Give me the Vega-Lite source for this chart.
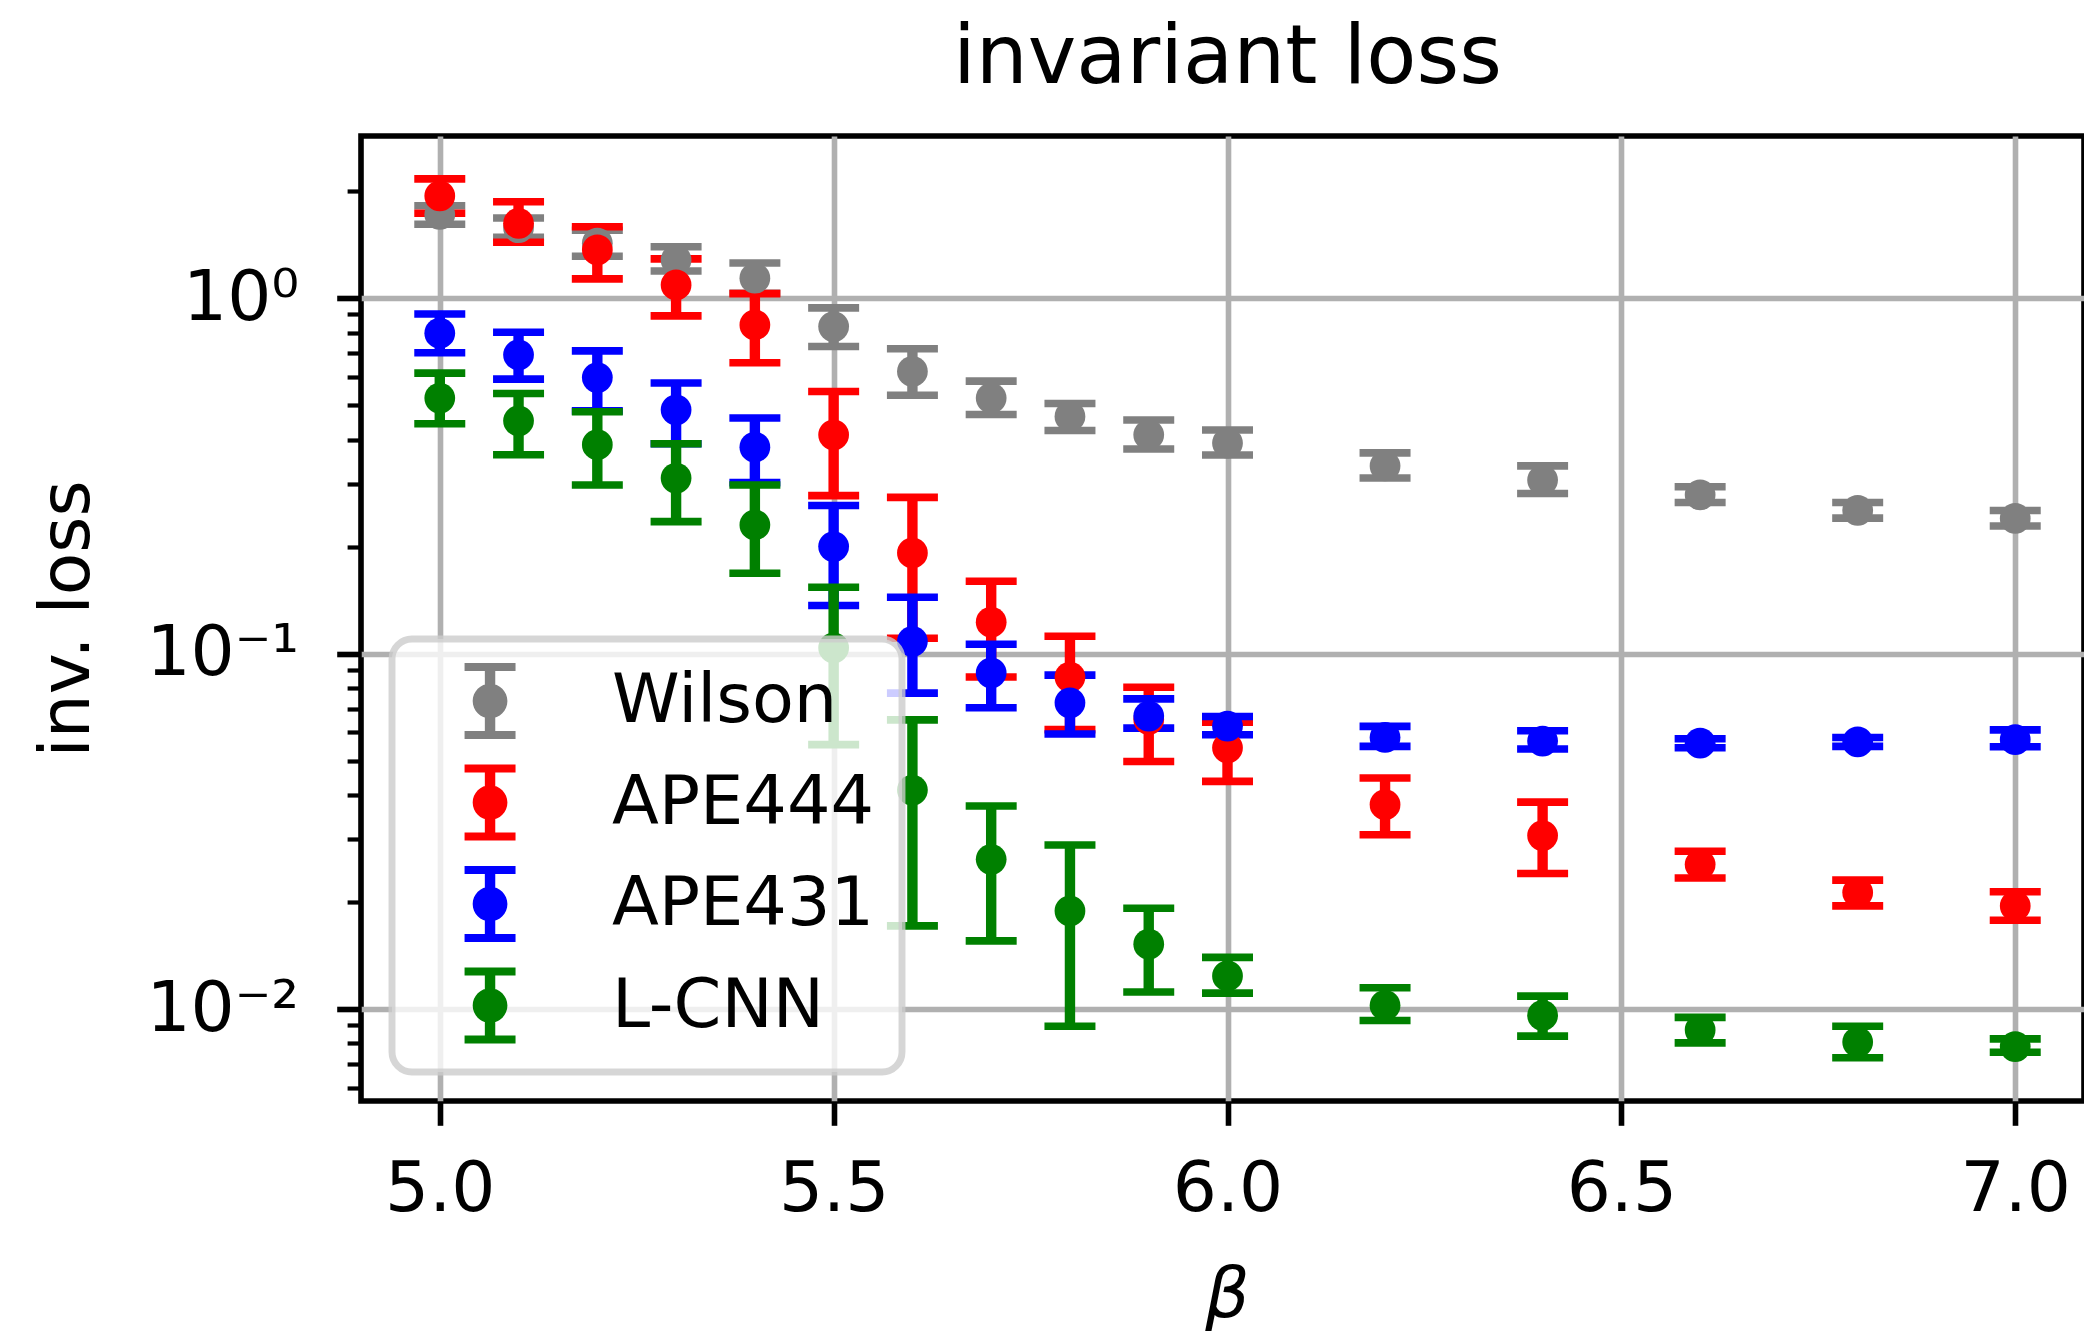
{
  "$schema": "https://vega.github.io/schema/vega-lite/v6.json",
  "autosize": {"type": "none"},
  "padding": {"left": 361, "top": 136, "right": 0, "bottom": 231},
  "width": 1723,
  "height": 965,
  "background": "white",
  "config": {"view": {"stroke": "black", "strokeWidth": 5.6}, "font": "DejaVu Sans"},
  "title": {"text": "invariant loss", "font": "DejaVu Sans", "fontSize": 82, "fontWeight": "normal", "color": "black", "anchor": "middle", "frame": "group", "baseline": "alphabetic", "offset": 52, "dx": 5, "dy": 81},
  "data": {"values": [
    {"s": "Wilson", "b": 5.0, "v": 1.720, "lo": 1.614, "hi": 1.821},
    {"s": "Wilson", "b": 5.1, "v": 1.579, "lo": 1.484, "hi": 1.682},
    {"s": "Wilson", "b": 5.2, "v": 1.428, "lo": 1.312, "hi": 1.553},
    {"s": "Wilson", "b": 5.3, "v": 1.281, "lo": 1.193, "hi": 1.396},
    {"s": "Wilson", "b": 5.4, "v": 1.138, "lo": 1.033, "hi": 1.256},
    {"s": "Wilson", "b": 5.5, "v": 0.832, "lo": 0.731, "hi": 0.939},
    {"s": "Wilson", "b": 5.6, "v": 0.622, "lo": 0.533, "hi": 0.721},
    {"s": "Wilson", "b": 5.7, "v": 0.5235, "lo": 0.4708, "hi": 0.5843},
    {"s": "Wilson", "b": 5.8, "v": 0.4648, "lo": 0.4245, "hi": 0.5056},
    {"s": "Wilson", "b": 5.9, "v": 0.4128, "lo": 0.3763, "hi": 0.4541},
    {"s": "Wilson", "b": 6.0, "v": 0.3913, "lo": 0.362, "hi": 0.4256},
    {"s": "Wilson", "b": 6.2, "v": 0.3374, "lo": 0.3121, "hi": 0.367},
    {"s": "Wilson", "b": 6.4, "v": 0.3078, "lo": 0.2822, "hi": 0.3374},
    {"s": "Wilson", "b": 6.6, "v": 0.2797, "lo": 0.2662, "hi": 0.2947},
    {"s": "Wilson", "b": 6.8, "v": 0.2528, "lo": 0.2406, "hi": 0.2662},
    {"s": "Wilson", "b": 7.0, "v": 0.240, "lo": 0.2285, "hi": 0.2528},
    {"s": "APE444", "b": 5.0, "v": 1.939, "lo": 1.734, "hi": 2.167},
    {"s": "APE444", "b": 5.1, "v": 1.625, "lo": 1.437, "hi": 1.868},
    {"s": "APE444", "b": 5.2, "v": 1.367, "lo": 1.133, "hi": 1.589},
    {"s": "APE444", "b": 5.3, "v": 1.090, "lo": 0.892, "hi": 1.290},
    {"s": "APE444", "b": 5.4, "v": 0.841, "lo": 0.658, "hi": 1.030},
    {"s": "APE444", "b": 5.5, "v": 0.4128, "lo": 0.2782, "hi": 0.5464},
    {"s": "APE444", "b": 5.6, "v": 0.192, "lo": 0.1105, "hi": 0.2752},
    {"s": "APE444", "b": 5.7, "v": 0.1226, "lo": 0.0859, "hi": 0.1598},
    {"s": "APE444", "b": 5.8, "v": 0.0859, "lo": 0.0611, "hi": 0.1119},
    {"s": "APE444", "b": 5.9, "v": 0.0653, "lo": 0.0497, "hi": 0.0804},
    {"s": "APE444", "b": 6.0, "v": 0.0543, "lo": 0.0437, "hi": 0.0641},
    {"s": "APE444", "b": 6.2, "v": 0.03756, "lo": 0.03093, "hi": 0.04465},
    {"s": "APE444", "b": 6.4, "v": 0.03075, "lo": 0.02406, "hi": 0.0382},
    {"s": "APE444", "b": 6.6, "v": 0.02549, "lo": 0.02337, "hi": 0.0278},
    {"s": "APE444", "b": 6.8, "v": 0.02126, "lo": 0.0195, "hi": 0.02305},
    {"s": "APE444", "b": 7.0, "v": 0.0195, "lo": 0.01778, "hi": 0.02138},
    {"s": "APE431", "b": 5.0, "v": 0.797, "lo": 0.702, "hi": 0.903},
    {"s": "APE431", "b": 5.1, "v": 0.693, "lo": 0.592, "hi": 0.802},
    {"s": "APE431", "b": 5.2, "v": 0.598, "lo": 0.482, "hi": 0.711},
    {"s": "APE431", "b": 5.3, "v": 0.4854, "lo": 0.3895, "hi": 0.577},
    {"s": "APE431", "b": 5.4, "v": 0.3808, "lo": 0.3027, "hi": 0.4603},
    {"s": "APE431", "b": 5.5, "v": 0.200, "lo": 0.1365, "hi": 0.2611},
    {"s": "APE431", "b": 5.6, "v": 0.1083, "lo": 0.0774, "hi": 0.144},
    {"s": "APE431", "b": 5.7, "v": 0.0883, "lo": 0.0704, "hi": 0.1062},
    {"s": "APE431", "b": 5.8, "v": 0.0727, "lo": 0.0594, "hi": 0.0870},
    {"s": "APE431", "b": 5.9, "v": 0.0667, "lo": 0.0617, "hi": 0.0746},
    {"s": "APE431", "b": 6.0, "v": 0.0625, "lo": 0.0591, "hi": 0.0665},
    {"s": "APE431", "b": 6.2, "v": 0.05809, "lo": 0.05481, "hi": 0.06242},
    {"s": "APE431", "b": 6.4, "v": 0.05676, "lo": 0.05389, "hi": 0.06067},
    {"s": "APE431", "b": 6.6, "v": 0.05596, "lo": 0.05434, "hi": 0.05758},
    {"s": "APE431", "b": 6.8, "v": 0.05643, "lo": 0.05481, "hi": 0.05806},
    {"s": "APE431", "b": 7.0, "v": 0.05724, "lo": 0.05468, "hi": 0.06102},
    {"s": "L-CNN", "b": 5.0, "v": 0.5235, "lo": 0.4432, "hi": 0.6154},
    {"s": "L-CNN", "b": 5.1, "v": 0.4519, "lo": 0.3627, "hi": 0.5394},
    {"s": "L-CNN", "b": 5.2, "v": 0.387, "lo": 0.2982, "hi": 0.479},
    {"s": "L-CNN", "b": 5.3, "v": 0.3119, "lo": 0.2351, "hi": 0.3895},
    {"s": "L-CNN", "b": 5.4, "v": 0.2301, "lo": 0.1683, "hi": 0.2982},
    {"s": "L-CNN", "b": 5.5, "v": 0.1038, "lo": 0.05546, "hi": 0.1537},
    {"s": "L-CNN", "b": 5.6, "v": 0.0413, "lo": 0.01714, "hi": 0.0651},
    {"s": "L-CNN", "b": 5.7, "v": 0.02638, "lo": 0.01555, "hi": 0.03724},
    {"s": "L-CNN", "b": 5.8, "v": 0.01888, "lo": 0.00894, "hi": 0.02893},
    {"s": "L-CNN", "b": 5.9, "v": 0.01522, "lo": 0.01117, "hi": 0.01921},
    {"s": "L-CNN", "b": 6.0, "v": 0.01239, "lo": 0.01108, "hi": 0.01397},
    {"s": "L-CNN", "b": 6.2, "v": 0.01023, "lo": 0.00928, "hi": 0.01148},
    {"s": "L-CNN", "b": 6.4, "v": 0.0096, "lo": 0.00839, "hi": 0.01087},
    {"s": "L-CNN", "b": 6.6, "v": 0.00873, "lo": 0.00803, "hi": 0.00947},
    {"s": "L-CNN", "b": 6.8, "v": 0.00807, "lo": 0.00729, "hi": 0.00894},
    {"s": "L-CNN", "b": 7.0, "v": 0.00784, "lo": 0.00756, "hi": 0.00824}
  ]},
  "layer": [
    {
      "transform": [{"filter": "datum.s === 'Wilson'"}],
      "layer": [
        {"mark": {"type": "rule", "color": "#808080", "strokeWidth": 10.4},
         "encoding": {"x": {"field": "b", "type": "quantitative", "scale": {"domain": [4.9, 7.0873], "nice": false, "zero": false}},
                      "y": {"field": "lo", "type": "quantitative", "scale": {"type": "log", "domain": [0.00551, 2.86], "nice": false}},
                      "y2": {"field": "hi"}}},
        {"mark": {"type": "tick", "orient": "horizontal", "color": "#808080", "size": 51, "thickness": 7.6, "opacity": 1},
         "encoding": {"x": {"field": "b", "type": "quantitative", "scale": {"domain": [4.9, 7.0873], "nice": false, "zero": false}},
                      "y": {"field": "lo", "type": "quantitative", "scale": {"type": "log", "domain": [0.00551, 2.86], "nice": false}}}},
        {"mark": {"type": "tick", "orient": "horizontal", "color": "#808080", "size": 51, "thickness": 7.6, "opacity": 1},
         "encoding": {"x": {"field": "b", "type": "quantitative", "scale": {"domain": [4.9, 7.0873], "nice": false, "zero": false}},
                      "y": {"field": "hi", "type": "quantitative", "scale": {"type": "log", "domain": [0.00551, 2.86], "nice": false}}}}
      ]
    },
    {
      "transform": [{"filter": "datum.s === 'APE444'"}],
      "layer": [
        {"mark": {"type": "rule", "color": "#ff0000", "strokeWidth": 10.4},
         "encoding": {"x": {"field": "b", "type": "quantitative", "scale": {"domain": [4.9, 7.0873], "nice": false, "zero": false}},
                      "y": {"field": "lo", "type": "quantitative", "scale": {"type": "log", "domain": [0.00551, 2.86], "nice": false}},
                      "y2": {"field": "hi"}}},
        {"mark": {"type": "tick", "orient": "horizontal", "color": "#ff0000", "size": 51, "thickness": 7.6, "opacity": 1},
         "encoding": {"x": {"field": "b", "type": "quantitative", "scale": {"domain": [4.9, 7.0873], "nice": false, "zero": false}},
                      "y": {"field": "lo", "type": "quantitative", "scale": {"type": "log", "domain": [0.00551, 2.86], "nice": false}}}},
        {"mark": {"type": "tick", "orient": "horizontal", "color": "#ff0000", "size": 51, "thickness": 7.6, "opacity": 1},
         "encoding": {"x": {"field": "b", "type": "quantitative", "scale": {"domain": [4.9, 7.0873], "nice": false, "zero": false}},
                      "y": {"field": "hi", "type": "quantitative", "scale": {"type": "log", "domain": [0.00551, 2.86], "nice": false}}}}
      ]
    },
    {
      "transform": [{"filter": "datum.s === 'APE431'"}],
      "layer": [
        {"mark": {"type": "rule", "color": "#0000ff", "strokeWidth": 10.4},
         "encoding": {"x": {"field": "b", "type": "quantitative", "scale": {"domain": [4.9, 7.0873], "nice": false, "zero": false}},
                      "y": {"field": "lo", "type": "quantitative", "scale": {"type": "log", "domain": [0.00551, 2.86], "nice": false}},
                      "y2": {"field": "hi"}}},
        {"mark": {"type": "tick", "orient": "horizontal", "color": "#0000ff", "size": 51, "thickness": 7.6, "opacity": 1},
         "encoding": {"x": {"field": "b", "type": "quantitative", "scale": {"domain": [4.9, 7.0873], "nice": false, "zero": false}},
                      "y": {"field": "lo", "type": "quantitative", "scale": {"type": "log", "domain": [0.00551, 2.86], "nice": false}}}},
        {"mark": {"type": "tick", "orient": "horizontal", "color": "#0000ff", "size": 51, "thickness": 7.6, "opacity": 1},
         "encoding": {"x": {"field": "b", "type": "quantitative", "scale": {"domain": [4.9, 7.0873], "nice": false, "zero": false}},
                      "y": {"field": "hi", "type": "quantitative", "scale": {"type": "log", "domain": [0.00551, 2.86], "nice": false}}}}
      ]
    },
    {
      "transform": [{"filter": "datum.s === 'L-CNN'"}],
      "layer": [
        {"mark": {"type": "rule", "color": "#008000", "strokeWidth": 10.4},
         "encoding": {"x": {"field": "b", "type": "quantitative", "scale": {"domain": [4.9, 7.0873], "nice": false, "zero": false}},
                      "y": {"field": "lo", "type": "quantitative", "scale": {"type": "log", "domain": [0.00551, 2.86], "nice": false}},
                      "y2": {"field": "hi"}}},
        {"mark": {"type": "tick", "orient": "horizontal", "color": "#008000", "size": 51, "thickness": 7.6, "opacity": 1},
         "encoding": {"x": {"field": "b", "type": "quantitative", "scale": {"domain": [4.9, 7.0873], "nice": false, "zero": false}},
                      "y": {"field": "lo", "type": "quantitative", "scale": {"type": "log", "domain": [0.00551, 2.86], "nice": false}}}},
        {"mark": {"type": "tick", "orient": "horizontal", "color": "#008000", "size": 51, "thickness": 7.6, "opacity": 1},
         "encoding": {"x": {"field": "b", "type": "quantitative", "scale": {"domain": [4.9, 7.0873], "nice": false, "zero": false}},
                      "y": {"field": "hi", "type": "quantitative", "scale": {"type": "log", "domain": [0.00551, 2.86], "nice": false}}}}
      ]
    },
    {
      "mark": {"type": "point", "filled": true, "shape": "circle", "size": 946, "opacity": 1, "strokeWidth": 0},
      "encoding": {
        "x": {"field": "b", "type": "quantitative", "title": "β",
              "scale": {"domain": [4.9, 7.0873], "nice": false, "zero": false},
              "axis": {"values": [5, 5.5, 6, 6.5, 7], "format": ".1f", "grid": true, "gridColor": "#b0b0b0", "gridWidth": 5.6,
                       "domain": false, "tickColor": "black", "tickSize": 24.3, "tickWidth": 5.6,
                       "labelFont": "DejaVu Sans", "labelFontSize": 69.4, "labelColor": "black", "labelPadding": 30,
                       "labelFlush": false, "labelOverlap": false,
                       "titleFont": "DejaVu Sans", "titleFontSize": 69.4, "titleFontStyle": "italic", "titleFontWeight": "normal",
                       "titleColor": "black", "titlePadding": 38, "titleX": 866}},
        "y": {"field": "v", "type": "quantitative", "title": "inv. loss",
              "scale": {"type": "log", "domain": [0.00551, 2.86], "nice": false},
              "axis": {"values": [0.006, 0.007, 0.008, 0.009, 0.01, 0.02, 0.03, 0.04, 0.05, 0.06, 0.07, 0.08, 0.09, 0.1, 0.2, 0.3, 0.4, 0.5, 0.6, 0.7, 0.8, 0.9, 1, 2],
                       "labelExpr": "datum.value == 1 ? '10⁰' : datum.value == 0.1 ? '10⁻¹' : datum.value == 0.01 ? '10⁻²' : ''",
                       "grid": true, "gridColor": "#b0b0b0", "gridWidth": 5.6,
                       "gridOpacity": {"condition": {"test": "datum.value == 1 || datum.value == 0.1 || datum.value == 0.01", "value": 1}, "value": 0},
                       "domain": false, "tickColor": "black",
                       "tickSize": {"condition": {"test": "datum.value == 1 || datum.value == 0.1 || datum.value == 0.01", "value": 24.3}, "value": 13.9},
                       "tickWidth": {"condition": {"test": "datum.value == 1 || datum.value == 0.1 || datum.value == 0.01", "value": 5.6}, "value": 4.2},
                       "labelFont": "DejaVu Sans", "labelFontSize": 69.4, "labelColor": "black", "labelPadding": 38,
                       "labelFlush": false, "labelOverlap": false,
                       "titleFont": "DejaVu Sans", "titleFontSize": 69.4, "titleFontWeight": "normal", "titleColor": "black", "titlePadding": 58}},
        "color": {"field": "s", "type": "nominal",
                  "scale": {"domain": ["Wilson", "APE444", "APE431", "L-CNN"], "range": ["#808080", "#ff0000", "#0000ff", "#008000"]},
                  "legend": {"orient": "none", "legendX": 31, "legendY": 503, "title": null,
                             "symbolType": "M-0.763,-1.138H0.763V-0.898H-0.763Z M-0.763,0.898H0.763V1.138H-0.763Z M-0.156,-1.018H0.156V1.018H-0.156Z M0.52,0A0.52,0.52,0,1,1,-0.52,0A0.52,0.52,0,1,1,0.52,0Z",
                             "symbolSize": 4462, "symbolStrokeWidth": 0, "symbolOpacity": 1, "symbolOffset": 36,
                             "labelOffset": 87.6, "labelLimit": 500, "labelFont": "DejaVu Sans", "labelFontSize": 68.5, "labelColor": "black",
                             "padding": 27.8, "rowPadding": 24.5,
                             "fillColor": "rgba(255,255,255,0.8)", "strokeColor": "rgba(204,204,204,0.8)", "cornerRadius": 20,
                             "encode": {"legend": {"update": {"strokeWidth": {"value": 6.9}}}}}}
      }
    }
  ]
}
